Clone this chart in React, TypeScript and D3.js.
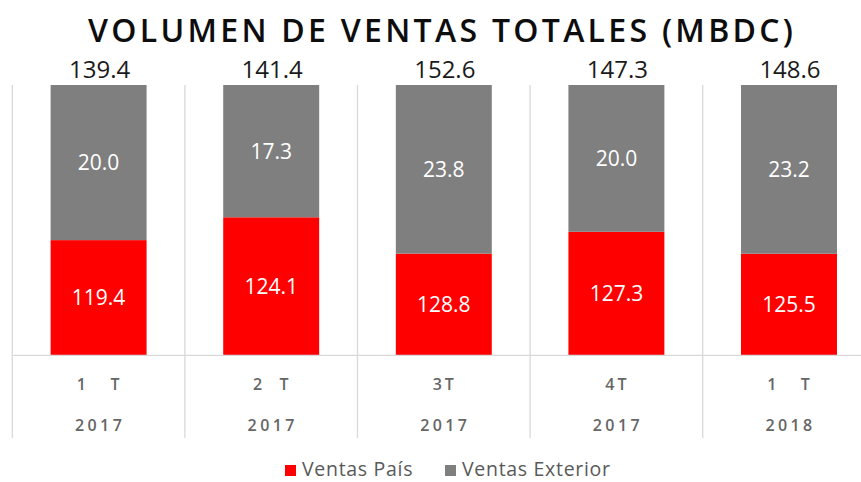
import React from "react";
import * as d3 from "d3";

const quarters = ["1   T", "2  T", "3T", "4T", "1   T"];
const years = ["2017", "2017", "2017", "2017", "2018"];
const ventasPais = [119.4, 124.1, 128.8, 127.3, 125.5];
const ventasExterior = [20.0, 17.3, 23.8, 20.0, 23.2];
const totals = [139.4, 141.4, 152.6, 147.3, 148.6];
const seriesNames = ["Ventas País", "Ventas Exterior"];
const colors = ["#FF0000", "#7F7F7F"];
const title = "VOLUMEN DE VENTAS TOTALES (MBDC)";

const W = 861;
const H = 482;
const FONT = "'Open Sans', 'DejaVu Sans', sans-serif";

export default function App() {
  const keys = quarters.map((q, i) => `${q}|${years[i]}|${i}`);
  const rows = keys.map((k, i) => ({ key: k, pais: ventasPais[i], ext: ventasExterior[i] }));
  const stack = d3.stack<any>().keys(["pais", "ext"]).offset(d3.stackOffsetExpand);
  const stacked = stack(rows);

  const x = d3.scaleBand<string>().domain(keys).range([12.3, 875.3]).paddingInner(0).paddingOuter(0);
  const barW = x.step() * 0.556;
  const y = d3.scaleLinear().domain([0.75, 1]).range([355.3, 85]).clamp(true);

  const sepTop = 85;
  const sepBottom = 438;

  return (
    <svg width={W} height={H} style={{ position: "absolute", left: 0, top: 0, background: "#fff" }} fontFamily={FONT}>
      <rect width={W} height={H} fill="#fff" />
      <text x={88} y={42} fontSize={32} fontWeight={600} fill="#0d0d0d" textLength={705} lengthAdjust="spacing">
        {title}
      </text>
      {/* separators */}
      {keys.map((k) => (
        <line key={"s" + k} x1={x(k)!} x2={x(k)!} y1={sepTop} y2={sepBottom} stroke="#D9D9D9" strokeWidth={1.3} />
      ))}
      <line x1={x.range()[1]} x2={x.range()[1]} y1={sepTop} y2={sepBottom} stroke="#D9D9D9" strokeWidth={1.3} />
      {/* bars */}
      {stacked.map((s, si) =>
        s.map((d, i) => {
          const k = keys[i];
          const x0 = x(k)! + (x.step() - barW) / 2;
          const y0 = y(d[1]);
          const y1 = y(d[0]);
          return <rect key={si + "-" + i} x={x0} y={y0} width={barW} height={y1 - y0} fill={colors[si]} />;
        })
      )}
      {/* axis line */}
      <line x1={x.range()[0]} x2={W} y1={355.3} y2={355.3} stroke="#D9D9D9" strokeWidth={1.3} />
      {/* inside labels */}
      {stacked.map((s, si) =>
        s.map((d, i) => {
          const k = keys[i];
          const cx = x(k)! + x.step() / 2;
          const cy = (y(d[0]) + y(d[1])) / 2;
          const v = si === 0 ? ventasPais[i] : ventasExterior[i];
          return (
            <text key={"l" + si + "-" + i} x={cx} y={cy} dy="0.36em" textAnchor="middle" fontSize={21} fill="#fff">
              {v.toFixed(1)}
            </text>
          );
        })
      )}
      {/* totals */}
      {totals.map((t, i) => (
        <text key={"t" + i} x={x(keys[i])! + x.step() / 2 + 1} y={69} dy="0.36em" textAnchor="middle" fontSize={24} fill="#1a1a1a">
          {t.toFixed(1)}
        </text>
      ))}
      {/* category labels */}
      {keys.map((k, i) => (
        <g key={"c" + k}>
          <text x={x(k)! + x.step() / 2 + 1} y={384} dy="0.36em" textAnchor="middle" fontSize={16} fontWeight={600} fill="#666" letterSpacing={3} style={{ whiteSpace: "pre" }}>
            {quarters[i]}
          </text>
          <text x={x(k)! + x.step() / 2 + 1.5} y={425} dy="0.36em" textAnchor="middle" fontSize={16} fontWeight={600} fill="#666" letterSpacing={3.4}>
            {years[i]}
          </text>
        </g>
      ))}
      {/* legend */}
      <g>
        <rect x={285} y={465} width={11} height={11} fill={colors[0]} />
        <text x={302} y={469} dy="0.36em" fontSize={19.5} fill="#595959" letterSpacing={0.7}>{seriesNames[0]}</text>
        <rect x={445} y={465} width={11} height={11} fill={colors[1]} />
        <text x={462} y={469} dy="0.36em" fontSize={19.5} fill="#595959" letterSpacing={0.7}>{seriesNames[1]}</text>
      </g>
    </svg>
  );
}
